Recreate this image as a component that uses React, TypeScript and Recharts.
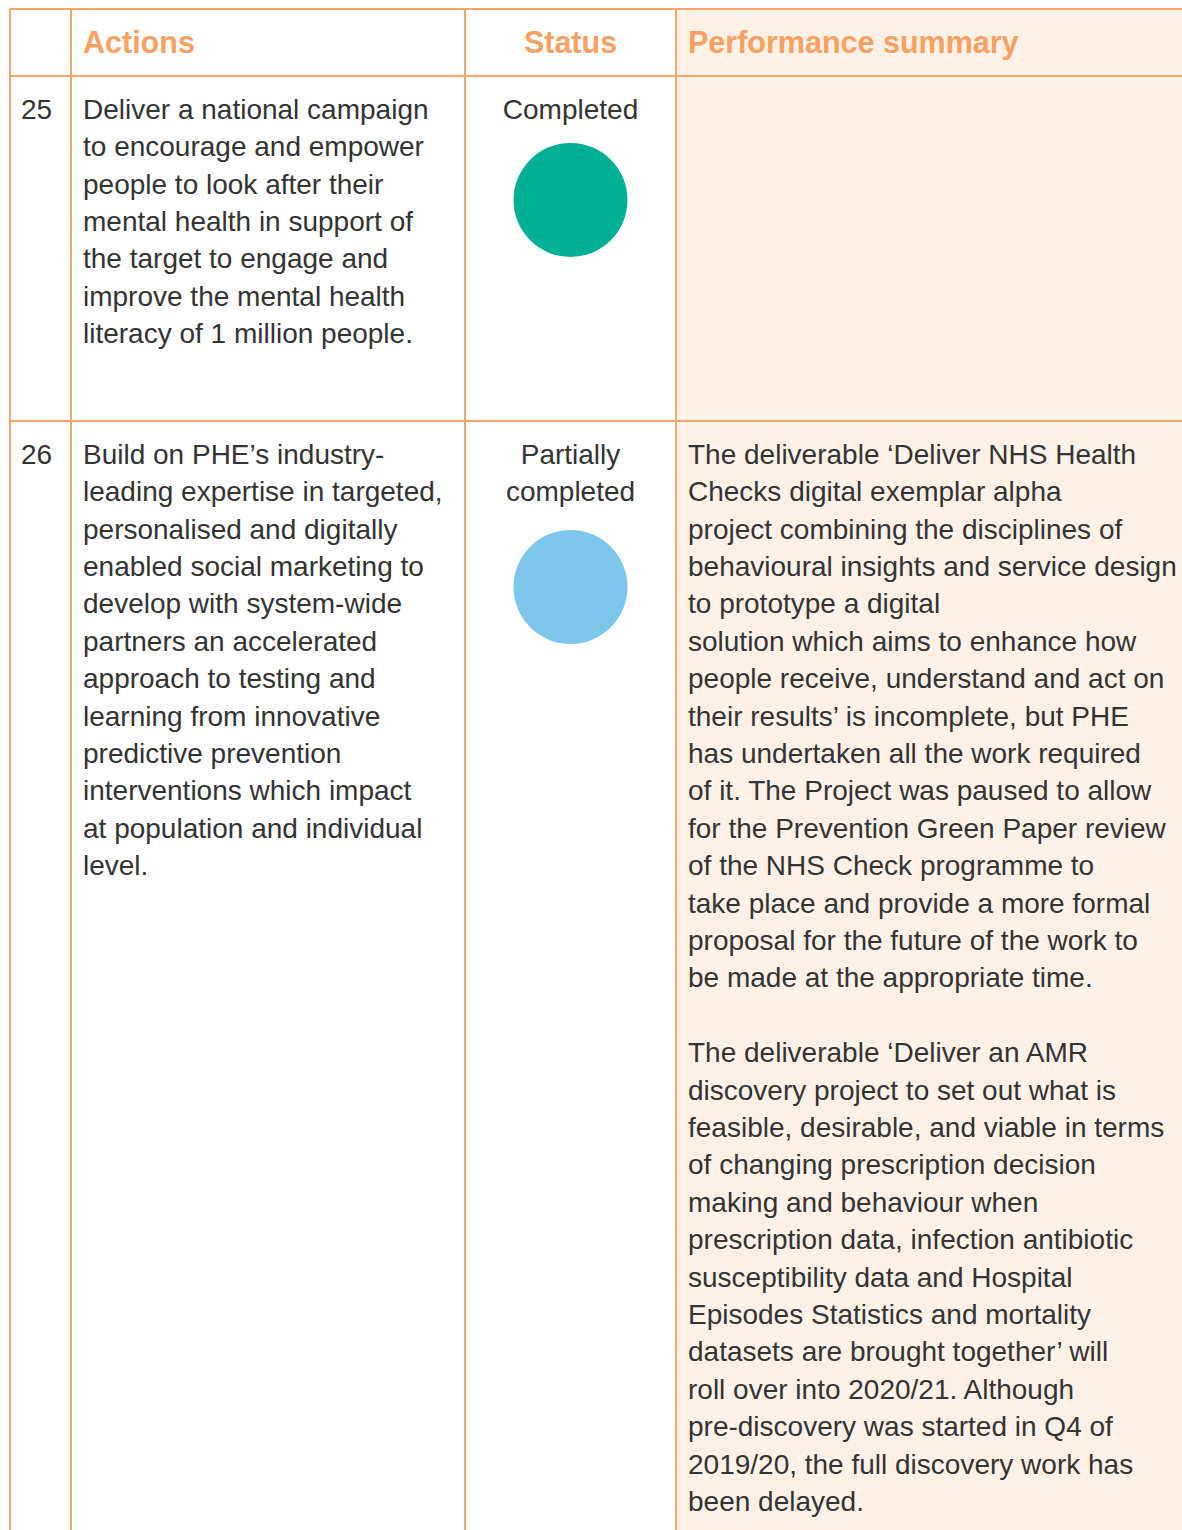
import {
  ScatterChart,
  Scatter,
  XAxis,
  YAxis,
  ReferenceArea,
  ReferenceLine,
} from 'recharts'

// table content
const headers = ['Actions', 'Status', 'Performance summary']
const actionNumbers = ['25', '26']
const statusKinds = ['completed', 'partial']
const statusLabels = [['Completed'], ['Partially', 'completed']]

const action25Lines = [
  'Deliver a national campaign',
  'to encourage and empower',
  'people to look after their',
  'mental health in support of',
  'the target to engage and',
  'improve the mental health',
  'literacy of 1 million people.',
]

const action26Lines = [
  'Build on PHE’s industry-',
  'leading expertise in targeted,',
  'personalised and digitally',
  'enabled social marketing to',
  'develop with system-wide',
  'partners an accelerated',
  'approach to testing and',
  'learning from innovative',
  'predictive prevention',
  'interventions which impact',
  'at population and individual',
  'level.',
]

const summary25Lines: string[] = []

const summary26Lines = [
  'The deliverable ‘Deliver NHS Health',
  'Checks digital exemplar alpha',
  'project combining the disciplines of',
  'behavioural insights and service design',
  'to prototype a digital',
  'solution which aims to enhance how',
  'people receive, understand and act on',
  'their results’ is incomplete, but PHE',
  'has undertaken all the work required',
  'of it. The Project was paused to allow',
  'for the Prevention Green Paper review',
  'of the NHS Check programme to',
  'take place and provide a more formal',
  'proposal for the future of the work to',
  'be made at the appropriate time.',
  '',
  'The deliverable ‘Deliver an AMR',
  'discovery project to set out what is',
  'feasible, desirable, and viable in terms',
  'of changing prescription decision',
  'making and behaviour when',
  'prescription data, infection antibiotic',
  'susceptibility data and Hospital',
  'Episodes Statistics and mortality',
  'datasets are brought together’ will',
  'roll over into 2020/21. Although',
  'pre-discovery was started in Q4 of',
  '2019/20, the full discovery work has',
  'been delayed.',
]

const actionLines = [action25Lines, action26Lines]
const summaryLines = [summary25Lines, summary26Lines]

// layout
const W = 1182
const H = 1530
const colX = [10, 71, 465, 676]
const rowY = [9, 76, 421]
const LINE_H = 37.4
const FONT = 28
const CIRCLE_R = 57

const ORANGE_LINE = '#f7a66c'
const ORANGE_TEXT = '#f8a162'
const PEACH = '#fef2e8'
const TEXT = '#333333'
const statusColor: Record<string, string> = {
  completed: '#00b092',
  partial: '#7ec6eb',
}

const statusCenterX = (colX[2] + colX[3]) / 2

const circles = statusKinds.map((kind, i) => ({
  x: statusCenterX,
  y: rowY[i + 1] + 124 + (statusLabels[i].length - 1) * 42,
  kind,
}))

const baseline = (rowTop: number, i: number) => rowTop + 43.3 + i * LINE_H

const Line = ({
  text,
  left,
  base,
  center,
  bold,
  size = FONT,
  color = TEXT,
}: {
  text: string
  left: number
  base: number
  center?: boolean
  bold?: boolean
  size?: number
  color?: string
}) => (
  <div
    style={{
      position: 'absolute',
      left: center ? left - 200 : left,
      width: center ? 400 : undefined,
      textAlign: center ? 'center' : 'left',
      top: base - size * 0.905 - (LINE_H - size * 1.117) / 2,
      height: LINE_H,
      lineHeight: `${LINE_H}px`,
      fontSize: size,
      fontWeight: bold ? 700 : 400,
      color,
      whiteSpace: 'pre',
    }}
  >
    {text}
  </div>
)

const App = () => {
  return (
    <div
      style={{
        position: 'absolute',
        left: 0,
        top: 0,
        width: W,
        height: H,
        overflow: 'hidden',
        background: '#ffffff',
        fontFamily: '"Liberation Sans", Arial, sans-serif',
      }}
    >
      <ScatterChart width={W} height={H} margin={{ top: 0, right: 0, bottom: 0, left: 0 }}>
        <XAxis type="number" dataKey="x" domain={[0, W]} allowDataOverflow hide />
        <YAxis type="number" dataKey="y" domain={[0, H]} reversed allowDataOverflow hide />
        <ReferenceArea x1={colX[3]} x2={W} y1={rowY[0]} y2={H} fill={PEACH} fillOpacity={1} stroke="none" />
        {rowY.map((y) => (
          <ReferenceLine
            key={'h' + y}
            segment={[
              { x: colX[0], y },
              { x: W, y },
            ]}
            stroke={ORANGE_LINE}
            strokeWidth={2}
          />
        ))}
        {colX.map((x) => (
          <ReferenceLine
            key={'v' + x}
            segment={[
              { x, y: rowY[0] },
              { x, y: H },
            ]}
            stroke={ORANGE_LINE}
            strokeWidth={2}
          />
        ))}
        <Scatter
          data={circles}
          isAnimationActive={false}
          shape={(props: any) => (
            <circle cx={props.cx} cy={props.cy} r={CIRCLE_R} fill={statusColor[props.payload.kind]} />
          )}
        />
      </ScatterChart>

      <div style={{ position: 'absolute', left: 0, top: 0, width: W, height: H, pointerEvents: 'none' }}>
        <Line text={headers[0]} left={83} base={53.3} bold size={30.5} color={ORANGE_TEXT} />
        <Line text={headers[1]} left={statusCenterX} center base={53.3} bold size={30.5} color={ORANGE_TEXT} />
        <Line text={headers[2]} left={688} base={53.3} bold size={30.5} color={ORANGE_TEXT} />

        {actionNumbers.map((num, r) => (
          <div key={num}>
            <Line text={num} left={21} base={baseline(rowY[r + 1], 0)} />
            {actionLines[r].map((t, i) => (
              <Line key={'a' + i} text={t} left={83} base={baseline(rowY[r + 1], i)} />
            ))}
            {statusLabels[r].map((t, i) => (
              <Line key={'s' + i} text={t} left={statusCenterX} center base={baseline(rowY[r + 1], i)} />
            ))}
            {summaryLines[r].map((t, i) => (
              <Line key={'p' + i} text={t} left={688} base={baseline(rowY[r + 1], i)} />
            ))}
          </div>
        ))}
      </div>
    </div>
  )
}

export default App
